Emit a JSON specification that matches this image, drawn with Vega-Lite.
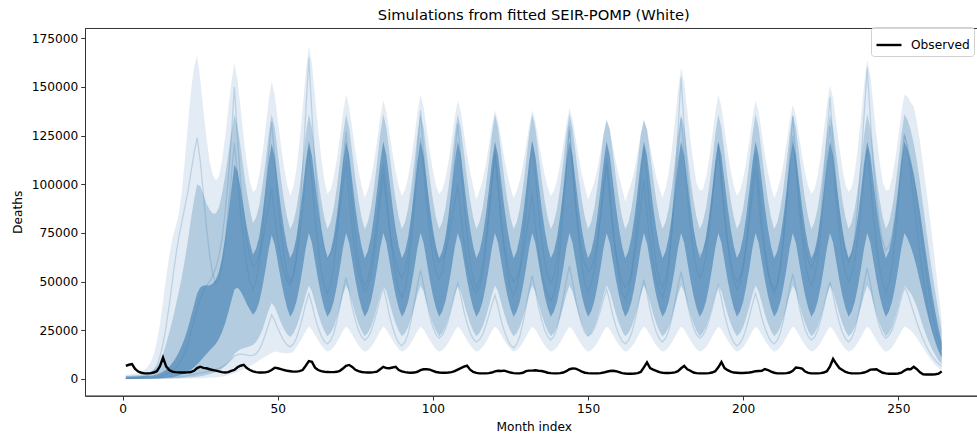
{
  "$schema": "https://vega.github.io/schema/vega-lite/v6.json",
  "width": 897.5,
  "height": 367.7,
  "autosize": {"type": "none"},
  "padding": {"left": 85, "top": 28, "right": 0, "bottom": 40},
  "background": "white",
  "title": {"text": "Simulations from fitted SEIR-POMP (White)", "font": "DejaVu Sans", "fontSize": 14.7, "fontWeight": "normal", "color": "#000000", "anchor": "middle", "offset": 4},
  "config": {
    "view": {"stroke": "#333333", "strokeWidth": 1},
    "axis": {"domainColor": "#333333", "tickColor": "#333333", "labelColor": "#000000", "titleColor": "#000000", "labelFont": "DejaVu Sans", "titleFont": "DejaVu Sans", "labelFontSize": 12.2, "titleFontSize": 12.2, "titleFontWeight": "normal", "grid": false, "tickSize": 4.3, "labelPadding": 3}
  },
  "data": {"values": [
    {"m":1,"lo":0,"a":0,"b":100,"c":1300,"d":1700,"hi":2200,"s1":400,"s2":200,"s3":300,"o":6700},
    {"m":2,"lo":0,"a":0,"b":100,"c":1300,"d":1700,"hi":2300,"s1":450,"s2":200,"s3":300,"o":7300},
    {"m":3,"lo":0,"a":0,"b":100,"c":1300,"d":1800,"hi":2500,"s1":500,"s2":250,"s3":350,"o":7600},
    {"m":4,"lo":0,"a":0,"b":100,"c":1400,"d":1900,"hi":2800,"s1":600,"s2":250,"s3":350,"o":5200},
    {"m":5,"lo":0,"a":0,"b":150,"c":1400,"d":2000,"hi":3200,"s1":700,"s2":300,"s3":400,"o":3800},
    {"m":6,"lo":0,"a":0,"b":150,"c":1500,"d":2200,"hi":3800,"s1":900,"s2":300,"s3":450,"o":3200},
    {"m":7,"lo":0,"a":50,"b":200,"c":1500,"d":2500,"hi":4700,"s1":1200,"s2":350,"s3":500,"o":2900},
    {"m":8,"lo":0,"a":50,"b":200,"c":1600,"d":3000,"hi":6200,"s1":1700,"s2":400,"s3":600,"o":2900},
    {"m":9,"lo":0,"a":100,"b":250,"c":1700,"d":3700,"hi":8500,"s1":2600,"s2":400,"s3":700,"o":3000},
    {"m":10,"lo":0,"a":100,"b":300,"c":1900,"d":4800,"hi":12500,"s1":4200,"s2":450,"s3":850,"o":3300},
    {"m":11,"lo":0,"a":150,"b":350,"c":2300,"d":6500,"hi":19000,"s1":7000,"s2":500,"s3":1000,"o":4000},
    {"m":12,"lo":0,"a":150,"b":400,"c":2900,"d":9500,"hi":28000,"s1":11500,"s2":550,"s3":1300,"o":6500},
    {"m":13,"lo":0,"a":200,"b":500,"c":3700,"d":13000,"hi":40000,"s1":18000,"s2":600,"s3":1700,"o":11000},
    {"m":14,"lo":100,"a":200,"b":600,"c":4800,"d":18000,"hi":52000,"s1":27000,"s2":700,"s3":2200,"o":6500},
    {"m":15,"lo":100,"a":250,"b":800,"c":6300,"d":24000,"hi":63000,"s1":38000,"s2":800,"s3":3000,"o":4600},
    {"m":16,"lo":100,"a":300,"b":1000,"c":8200,"d":30000,"hi":72000,"s1":50000,"s2":900,"s3":4000,"o":3800},
    {"m":17,"lo":100,"a":350,"b":1300,"c":10500,"d":37000,"hi":78000,"s1":62000,"s2":1000,"s3":5500,"o":3500},
    {"m":18,"lo":100,"a":400,"b":1700,"c":13500,"d":44000,"hi":84000,"s1":72000,"s2":1100,"s3":7500,"o":3400},
    {"m":19,"lo":150,"a":500,"b":2200,"c":17000,"d":52000,"hi":95000,"s1":80000,"s2":1300,"s3":10000,"o":3300},
    {"m":20,"lo":150,"a":600,"b":2900,"c":21000,"d":61000,"hi":112000,"s1":88000,"s2":1500,"s3":13500,"o":3300},
    {"m":21,"lo":200,"a":700,"b":3700,"c":26000,"d":71000,"hi":130000,"s1":96000,"s2":1700,"s3":18000,"o":3400},
    {"m":22,"lo":200,"a":800,"b":4700,"c":32000,"d":82000,"hi":148000,"s1":106000,"s2":2000,"s3":24000,"o":3600},
    {"m":23,"lo":250,"a":1000,"b":6000,"c":38000,"d":92000,"hi":160000,"s1":116000,"s2":2300,"s3":30000,"o":4200},
    {"m":24,"lo":300,"a":1200,"b":7500,"c":44000,"d":100000,"hi":166000,"s1":124000,"s2":2700,"s3":36000,"o":5600},
    {"m":25,"lo":350,"a":1400,"b":9200,"c":47000,"d":99000,"hi":154000,"s1":112000,"s2":3000,"s3":41000,"o":6300},
    {"m":26,"lo":400,"a":1700,"b":11000,"c":48000,"d":95000,"hi":138000,"s1":95000,"s2":3300,"s3":45000,"o":5700},
    {"m":27,"lo":500,"a":2000,"b":12800,"c":48000,"d":90000,"hi":124000,"s1":78000,"s2":3600,"s3":48000,"o":5500},
    {"m":28,"lo":600,"a":2400,"b":14600,"c":48000,"d":87000,"hi":112000,"s1":64000,"s2":4000,"s3":50000,"o":5000},
    {"m":29,"lo":700,"a":2900,"b":16300,"c":49000,"d":85000,"hi":105000,"s1":54000,"s2":4400,"s3":53000,"o":4600},
    {"m":30,"lo":800,"a":3500,"b":18000,"c":51000,"d":85000,"hi":102000,"s1":49000,"s2":4800,"s3":57000,"o":4300},
    {"m":31,"lo":1000,"a":4300,"b":20500,"c":55000,"d":88000,"hi":104000,"s1":51000,"s2":5400,"s3":63000,"o":3900},
    {"m":32,"lo":1200,"a":5300,"b":24000,"c":62000,"d":95000,"hi":112000,"s1":58000,"s2":6200,"s3":72000,"o":3500},
    {"m":33,"lo":1500,"a":6600,"b":28500,"c":72000,"d":104000,"hi":124000,"s1":70000,"s2":7200,"s3":85000,"o":3300},
    {"m":34,"lo":1900,"a":8300,"b":34000,"c":84000,"d":115000,"hi":138000,"s1":86000,"s2":8500,"s3":102000,"o":3500},
    {"m":35,"lo":2400,"a":10300,"b":40000,"c":97000,"d":126000,"hi":152000,"s1":104000,"s2":10000,"s3":124000,"o":4200},
    {"m":36,"lo":3000,"a":12800,"b":46000,"c":110000,"d":136000,"hi":162000,"s1":121000,"s2":11800,"s3":150000,"o":4600},
    {"m":37,"lo":3600,"a":14300,"b":47000,"c":107000,"d":130000,"hi":154000,"s1":104500,"s2":12500,"s3":124200,"o":6000},
    {"m":38,"lo":4300,"a":15300,"b":45000,"c":98000,"d":119000,"hi":139000,"s1":85000,"s2":12800,"s3":101200,"o":6800},
    {"m":39,"lo":5000,"a":15800,"b":42000,"c":88000,"d":107000,"hi":124000,"s1":70000,"s2":12600,"s3":83800,"o":7300},
    {"m":40,"lo":5800,"a":16300,"b":38500,"c":78000,"d":96000,"hi":111000,"s1":58000,"s2":12200,"s3":70900,"o":5600},
    {"m":41,"lo":6600,"a":16800,"b":35500,"c":70000,"d":87000,"hi":101000,"s1":49800,"s2":12000,"s3":62600,"o":4600},
    {"m":42,"lo":7500,"a":17500,"b":33000,"c":64000,"d":80000,"hi":96000,"s1":46000,"s2":12100,"s3":58000,"o":3900},
    {"m":43,"lo":8500,"a":19000,"b":35000,"c":67000,"d":83000,"hi":97500,"s1":50300,"s2":13000,"s3":59600,"o":3500},
    {"m":44,"lo":9500,"a":21500,"b":39500,"c":73000,"d":89000,"hi":104600,"s1":59800,"s2":15000,"s3":63200,"o":3300},
    {"m":45,"lo":10500,"a":25000,"b":47000,"c":84000,"d":99000,"hi":115200,"s1":75200,"s2":18500,"s3":70000,"o":3300},
    {"m":46,"lo":11500,"a":30000,"b":56000,"c":97000,"d":111000,"hi":128200,"s1":94200,"s2":23000,"s3":78800,"o":3400},
    {"m":47,"lo":12500,"a":35000,"b":66000,"c":111000,"d":125000,"hi":142400,"s1":114800,"s2":28000,"s3":88400,"o":3800},
    {"m":48,"lo":13500,"a":39000,"b":74000,"c":121000,"d":136000,"hi":153000,"s1":132000,"s2":33000,"s3":98000,"o":4600},
    {"m":49,"lo":14000,"a":37000,"b":69000,"c":114000,"d":129000,"hi":145900,"s1":114000,"s2":30000,"s3":84000,"o":5800},
    {"m":50,"lo":14000,"a":33000,"b":60000,"c":101000,"d":116000,"hi":132900,"s1":92600,"s2":26000,"s3":71500,"o":5500},
    {"m":51,"lo":13500,"a":29000,"b":51000,"c":88000,"d":103000,"hi":120000,"s1":76200,"s2":22500,"s3":62000,"o":5100},
    {"m":52,"lo":13200,"a":25500,"b":43000,"c":77000,"d":92000,"hi":108800,"s1":63100,"s2":19500,"s3":55000,"o":4600},
    {"m":53,"lo":13200,"a":23000,"b":36500,"c":68000,"d":83000,"hi":99900,"s1":54100,"s2":17500,"s3":50500,"o":4200},
    {"m":54,"lo":13200,"a":21500,"b":32000,"c":62000,"d":77000,"hi":94000,"s1":50000,"s2":16500,"s3":48000,"o":4000},
    {"m":55,"lo":14000,"a":23300,"b":34600,"c":65600,"d":80500,"hi":98600,"s1":53400,"s2":17900,"s3":52700,"o":3800},
    {"m":56,"lo":16300,"a":26700,"b":39700,"c":72800,"d":87600,"hi":107900,"s1":60900,"s2":20900,"s3":63200,"o":3800},
    {"m":57,"lo":18700,"a":31400,"b":47500,"c":83600,"d":98200,"hi":121700,"s1":73100,"s2":25900,"s3":83100,"o":4000},
    {"m":58,"lo":21500,"a":37100,"b":56900,"c":96800,"d":111200,"hi":138700,"s1":88100,"s2":31900,"s3":108800,"o":4600},
    {"m":59,"lo":24700,"a":43300,"b":67300,"c":111200,"d":125400,"hi":157100,"s1":104400,"s2":38500,"s3":136900,"o":6800},
    {"m":60,"lo":27000,"a":48000,"b":75000,"c":122000,"d":136000,"hi":171000,"s1":118000,"s2":44000,"s3":165000,"o":9200},
    {"m":61,"lo":25400,"a":44900,"b":69800,"c":114800,"d":128900,"hi":162000,"s1":101700,"s2":38300,"s3":136200,"o":8800},
    {"m":62,"lo":22600,"a":39200,"b":60400,"c":101600,"d":115900,"hi":145000,"s1":82500,"s2":31500,"s3":110400,"o":5800},
    {"m":63,"lo":19700,"a":33400,"b":50900,"c":88400,"d":103000,"hi":128000,"s1":67700,"s2":26300,"s3":90800,"o":4600},
    {"m":64,"lo":17300,"a":28500,"b":42800,"c":77000,"d":91800,"hi":114000,"s1":55800,"s2":22200,"s3":76400,"o":4000},
    {"m":65,"lo":15300,"a":24600,"b":36300,"c":68000,"d":82900,"hi":102000,"s1":47700,"s2":19300,"s3":67200,"o":3700},
    {"m":66,"lo":14000,"a":22000,"b":32000,"c":62000,"d":77000,"hi":95000,"s1":44000,"s2":18000,"s3":62000,"o":3600},
    {"m":67,"lo":14800,"a":23600,"b":34600,"c":65600,"d":80500,"hi":97100,"s1":48200,"s2":19700,"s3":64000,"o":3500},
    {"m":68,"lo":16300,"a":26700,"b":39700,"c":72800,"d":87600,"hi":103400,"s1":57300,"s2":23400,"s3":68500,"o":3500},
    {"m":69,"lo":18700,"a":31400,"b":47500,"c":83600,"d":98200,"hi":112700,"s1":72200,"s2":29600,"s3":77000,"o":3700},
    {"m":70,"lo":21500,"a":37100,"b":56900,"c":96800,"d":111200,"hi":124200,"s1":90500,"s2":37000,"s3":88000,"o":4200},
    {"m":71,"lo":24700,"a":43300,"b":67300,"c":111200,"d":125400,"hi":136600,"s1":110400,"s2":45200,"s3":100000,"o":5400},
    {"m":72,"lo":27000,"a":48000,"b":75000,"c":122000,"d":136000,"hi":146000,"s1":127000,"s2":52000,"s3":112000,"o":6800},
    {"m":73,"lo":25400,"a":44900,"b":69800,"c":114800,"d":128900,"hi":139800,"s1":109600,"s2":45000,"s3":93200,"o":7200},
    {"m":74,"lo":22600,"a":39200,"b":60400,"c":101600,"d":115900,"hi":128300,"s1":89100,"s2":36600,"s3":76500,"o":6200},
    {"m":75,"lo":19700,"a":33400,"b":50900,"c":88400,"d":103000,"hi":116900,"s1":73300,"s2":30200,"s3":63800,"o":4700},
    {"m":76,"lo":17300,"a":28500,"b":42800,"c":77000,"d":91800,"hi":107000,"s1":60600,"s2":25100,"s3":54400,"o":4000},
    {"m":77,"lo":15300,"a":24600,"b":36300,"c":68000,"d":82900,"hi":99200,"s1":52000,"s2":21600,"s3":48400,"o":3600},
    {"m":78,"lo":14000,"a":22000,"b":32000,"c":62000,"d":77000,"hi":93000,"s1":48000,"s2":20000,"s3":45000,"o":3400},
    {"m":79,"lo":14800,"a":23600,"b":34600,"c":65600,"d":80500,"hi":96900,"s1":51100,"s2":21400,"s3":47400,"o":3300},
    {"m":80,"lo":16300,"a":26700,"b":39700,"c":72800,"d":87600,"hi":102800,"s1":57900,"s2":24300,"s3":52800,"o":3300},
    {"m":81,"lo":18700,"a":31400,"b":47500,"c":83600,"d":98200,"hi":111600,"s1":69100,"s2":29200,"s3":63000,"o":3500},
    {"m":82,"lo":21500,"a":37100,"b":56900,"c":96800,"d":111200,"hi":122400,"s1":82700,"s2":35100,"s3":76200,"o":3800},
    {"m":83,"lo":24700,"a":43300,"b":67300,"c":111200,"d":125400,"hi":134200,"s1":97600,"s2":41600,"s3":90600,"o":5000},
    {"m":84,"lo":27000,"a":48000,"b":75000,"c":122000,"d":136000,"hi":143000,"s1":110000,"s2":47000,"s3":105000,"o":6200},
    {"m":85,"lo":25400,"a":44900,"b":69800,"c":114800,"d":128900,"hi":137100,"s1":95000,"s2":40400,"s3":90200,"o":5600},
    {"m":86,"lo":22600,"a":39200,"b":60400,"c":101600,"d":115900,"hi":126300,"s1":77400,"s2":32600,"s3":76900,"o":5500},
    {"m":87,"lo":19700,"a":33400,"b":50900,"c":88400,"d":103000,"hi":115600,"s1":63800,"s2":26600,"s3":66800,"o":5900},
    {"m":88,"lo":17300,"a":28500,"b":42800,"c":77000,"d":91800,"hi":106300,"s1":52900,"s2":21800,"s3":59400,"o":6200},
    {"m":89,"lo":15300,"a":24600,"b":36300,"c":68000,"d":82900,"hi":98900,"s1":45400,"s2":18500,"s3":54700,"o":4600},
    {"m":90,"lo":14000,"a":22000,"b":32000,"c":62000,"d":77000,"hi":94000,"s1":42000,"s2":17000,"s3":52000,"o":3900},
    {"m":91,"lo":14800,"a":23600,"b":34600,"c":65600,"d":80500,"hi":97100,"s1":46100,"s2":19000,"s3":55400,"o":3500},
    {"m":92,"lo":16300,"a":26700,"b":39700,"c":72800,"d":87600,"hi":103400,"s1":55100,"s2":23200,"s3":63200,"o":3300},
    {"m":93,"lo":18700,"a":31400,"b":47500,"c":83600,"d":98200,"hi":112700,"s1":69900,"s2":30300,"s3":77800,"o":3200},
    {"m":94,"lo":21500,"a":37100,"b":56900,"c":96800,"d":111200,"hi":124200,"s1":87900,"s2":38800,"s3":96700,"o":3300},
    {"m":95,"lo":24700,"a":43300,"b":67300,"c":111200,"d":125400,"hi":136600,"s1":107600,"s2":48200,"s3":117400,"o":3700},
    {"m":96,"lo":27000,"a":48000,"b":75000,"c":122000,"d":136000,"hi":146000,"s1":124000,"s2":56000,"s3":138000,"o":4500},
    {"m":97,"lo":25400,"a":44900,"b":69800,"c":114800,"d":128900,"hi":139800,"s1":107900,"s2":48300,"s3":116200,"o":5000},
    {"m":98,"lo":22600,"a":39200,"b":60400,"c":101600,"d":115900,"hi":128300,"s1":89000,"s2":39200,"s3":96700,"o":5000},
    {"m":99,"lo":19700,"a":33400,"b":50900,"c":88400,"d":103000,"hi":116900,"s1":74400,"s2":32200,"s3":81800,"o":4800},
    {"m":100,"lo":17300,"a":28500,"b":42800,"c":77000,"d":91800,"hi":107000,"s1":62700,"s2":26600,"s3":70900,"o":4200},
    {"m":101,"lo":15300,"a":24600,"b":36300,"c":68000,"d":82900,"hi":99200,"s1":54700,"s2":22800,"s3":63900,"o":3600},
    {"m":102,"lo":14000,"a":22000,"b":32000,"c":62000,"d":77000,"hi":95000,"s1":51000,"s2":21000,"s3":60000,"o":3300},
    {"m":103,"lo":14800,"a":23600,"b":34600,"c":65600,"d":80500,"hi":96900,"s1":55000,"s2":22400,"s3":61600,"o":3200},
    {"m":104,"lo":16300,"a":26700,"b":39700,"c":72800,"d":87600,"hi":102800,"s1":63800,"s2":25500,"s3":65200,"o":3200},
    {"m":105,"lo":18700,"a":31400,"b":47500,"c":83600,"d":98200,"hi":111600,"s1":78200,"s2":30500,"s3":72000,"o":3300},
    {"m":106,"lo":21500,"a":37100,"b":56900,"c":96800,"d":111200,"hi":122400,"s1":95800,"s2":36700,"s3":80800,"o":3500},
    {"m":107,"lo":24700,"a":43300,"b":67300,"c":111200,"d":125400,"hi":134200,"s1":115000,"s2":43400,"s3":90400,"o":4000},
    {"m":108,"lo":27000,"a":48000,"b":75000,"c":122000,"d":136000,"hi":143000,"s1":131000,"s2":49000,"s3":100000,"o":4800},
    {"m":109,"lo":25400,"a":44900,"b":69800,"c":114800,"d":128900,"hi":137100,"s1":112500,"s2":42400,"s3":84300,"o":5600},
    {"m":110,"lo":22600,"a":39200,"b":60400,"c":101600,"d":115900,"hi":126300,"s1":90700,"s2":34600,"s3":70300,"o":6300},
    {"m":111,"lo":19700,"a":33400,"b":50900,"c":88400,"d":103000,"hi":115600,"s1":73900,"s2":28600,"s3":59700,"o":6800},
    {"m":112,"lo":17300,"a":28500,"b":42800,"c":77000,"d":91800,"hi":106300,"s1":60400,"s2":23800,"s3":51800,"o":4800},
    {"m":113,"lo":15300,"a":24600,"b":36300,"c":68000,"d":82900,"hi":98900,"s1":51200,"s2":20500,"s3":46800,"o":3600},
    {"m":114,"lo":14000,"a":22000,"b":32000,"c":62000,"d":77000,"hi":92000,"s1":47000,"s2":19000,"s3":44000,"o":3100},
    {"m":115,"lo":14800,"a":23600,"b":34600,"c":65600,"d":80500,"hi":96600,"s1":50400,"s2":20200,"s3":47000,"o":2900},
    {"m":116,"lo":16300,"a":26700,"b":39700,"c":72800,"d":87600,"hi":101900,"s1":57900,"s2":22800,"s3":53600,"o":2900},
    {"m":117,"lo":18700,"a":31400,"b":47500,"c":83600,"d":98200,"hi":109800,"s1":70100,"s2":27200,"s3":66200,"o":2900},
    {"m":118,"lo":21500,"a":37100,"b":56900,"c":96800,"d":111200,"hi":119500,"s1":85100,"s2":32400,"s3":82500,"o":3000},
    {"m":119,"lo":24700,"a":43300,"b":67300,"c":111200,"d":125400,"hi":130100,"s1":101400,"s2":38200,"s3":100200,"o":3300},
    {"m":120,"lo":27000,"a":48000,"b":75000,"c":122000,"d":136000,"hi":138000,"s1":115000,"s2":43000,"s3":118000,"o":3900},
    {"m":121,"lo":25400,"a":44900,"b":69800,"c":114800,"d":128900,"hi":132700,"s1":99200,"s2":37100,"s3":99000,"o":4200},
    {"m":122,"lo":22600,"a":39200,"b":60400,"c":101600,"d":115900,"hi":123000,"s1":80400,"s2":30000,"s3":82000,"o":4100},
    {"m":123,"lo":19700,"a":33400,"b":50900,"c":88400,"d":103000,"hi":113400,"s1":66000,"s2":24600,"s3":69000,"o":4300},
    {"m":124,"lo":17300,"a":28500,"b":42800,"c":77000,"d":91800,"hi":105000,"s1":54500,"s2":20300,"s3":59500,"o":3800},
    {"m":125,"lo":15300,"a":24600,"b":36300,"c":68000,"d":82900,"hi":98400,"s1":46600,"s2":17400,"s3":53400,"o":3300},
    {"m":126,"lo":14000,"a":22000,"b":32000,"c":62000,"d":77000,"hi":93000,"s1":43000,"s2":16000,"s3":50000,"o":3000},
    {"m":127,"lo":14800,"a":23600,"b":34600,"c":65600,"d":80500,"hi":96600,"s1":47000,"s2":17900,"s3":51800,"o":2900},
    {"m":128,"lo":16300,"a":26700,"b":39700,"c":72800,"d":87600,"hi":101900,"s1":55600,"s2":21900,"s3":55900,"o":2900},
    {"m":129,"lo":18700,"a":31400,"b":47500,"c":83600,"d":98200,"hi":109800,"s1":69900,"s2":28600,"s3":63500,"o":3200},
    {"m":130,"lo":21500,"a":37100,"b":56900,"c":96800,"d":111200,"hi":119500,"s1":87200,"s2":36700,"s3":73400,"o":4000},
    {"m":131,"lo":24700,"a":43300,"b":67300,"c":111200,"d":125400,"hi":130100,"s1":106200,"s2":45600,"s3":84200,"o":4300},
    {"m":132,"lo":27000,"a":48000,"b":75000,"c":122000,"d":136000,"hi":138000,"s1":122000,"s2":53000,"s3":95000,"o":4300},
    {"m":133,"lo":25400,"a":44900,"b":69800,"c":114800,"d":128900,"hi":132700,"s1":105900,"s2":45700,"s3":79600,"o":4500},
    {"m":134,"lo":22600,"a":39200,"b":60400,"c":101600,"d":115900,"hi":123000,"s1":87000,"s2":37200,"s3":65900,"o":4200},
    {"m":135,"lo":19700,"a":33400,"b":50900,"c":88400,"d":103000,"hi":113400,"s1":72400,"s2":30600,"s3":55400,"o":4100},
    {"m":136,"lo":17300,"a":28500,"b":42800,"c":77000,"d":91800,"hi":105000,"s1":60700,"s2":25300,"s3":47700,"o":3700},
    {"m":137,"lo":15300,"a":24600,"b":36300,"c":68000,"d":82900,"hi":98400,"s1":52700,"s2":21700,"s3":42800,"o":3200},
    {"m":138,"lo":14000,"a":22000,"b":32000,"c":62000,"d":77000,"hi":94000,"s1":49000,"s2":20000,"s3":40000,"o":3000},
    {"m":139,"lo":14800,"a":23600,"b":34600,"c":65600,"d":80500,"hi":96700,"s1":53000,"s2":21900,"s3":43600,"o":2900},
    {"m":140,"lo":16300,"a":26700,"b":39700,"c":72800,"d":87600,"hi":102100,"s1":61600,"s2":26100,"s3":51700,"o":2900},
    {"m":141,"lo":18700,"a":31400,"b":47500,"c":83600,"d":98200,"hi":110200,"s1":75900,"s2":32900,"s3":67000,"o":3000},
    {"m":142,"lo":21500,"a":37100,"b":56900,"c":96800,"d":111200,"hi":120100,"s1":93200,"s2":41300,"s3":86800,"o":3300},
    {"m":143,"lo":24700,"a":43300,"b":67300,"c":111200,"d":125400,"hi":130900,"s1":112200,"s2":50400,"s3":108400,"o":4000},
    {"m":144,"lo":27000,"a":48000,"b":75000,"c":122000,"d":136000,"hi":139000,"s1":128000,"s2":58000,"s3":130000,"o":5000},
    {"m":145,"lo":25400,"a":44900,"b":69800,"c":114800,"d":128900,"hi":133600,"s1":109700,"s2":50100,"s3":109000,"o":5400},
    {"m":146,"lo":22600,"a":39200,"b":60400,"c":101600,"d":115900,"hi":123700,"s1":88200,"s2":40700,"s3":90300,"o":5300},
    {"m":147,"lo":19700,"a":33400,"b":50900,"c":88400,"d":103000,"hi":113800,"s1":71600,"s2":33500,"s3":76000,"o":4600},
    {"m":148,"lo":17300,"a":28500,"b":42800,"c":77000,"d":91800,"hi":105300,"s1":58300,"s2":27800,"s3":65500,"o":3800},
    {"m":149,"lo":15300,"a":24600,"b":36300,"c":68000,"d":82900,"hi":98500,"s1":49200,"s2":23800,"s3":58800,"o":3200},
    {"m":150,"lo":14000,"a":22000,"b":32000,"c":62000,"d":77000,"hi":92000,"s1":45000,"s2":22000,"s3":55000,"o":3000},
    {"m":151,"lo":14800,"a":23600,"b":34600,"c":65600,"d":80500,"hi":96300,"s1":48400,"s2":23200,"s3":57200,"o":2900},
    {"m":152,"lo":16300,"a":26700,"b":39700,"c":72800,"d":87600,"hi":101000,"s1":55900,"s2":25800,"s3":62200,"o":2900},
    {"m":153,"lo":18700,"a":31400,"b":47500,"c":83600,"d":98200,"hi":108000,"s1":68100,"s2":30200,"s3":71500,"o":2900},
    {"m":154,"lo":21500,"a":37100,"b":56900,"c":96800,"d":111200,"hi":116600,"s1":83100,"s2":35400,"s3":83600,"o":3000},
    {"m":155,"lo":24700,"a":43300,"b":67300,"c":111200,"d":125400,"hi":126000,"s1":99400,"s2":41200,"s3":96800,"o":3300},
    {"m":156,"lo":27000,"a":48000,"b":75000,"c":122000,"d":133000,"hi":133000,"s1":113000,"s2":46000,"s3":110000,"o":3700},
    {"m":157,"lo":25400,"a":44900,"b":69800,"c":114800,"d":128300,"hi":128300,"s1":97200,"s2":39800,"s3":92400,"o":4100},
    {"m":158,"lo":22600,"a":39200,"b":60400,"c":101600,"d":115900,"hi":119700,"s1":78400,"s2":32600,"s3":76600,"o":4200},
    {"m":159,"lo":19700,"a":33400,"b":50900,"c":88400,"d":103000,"hi":111200,"s1":64000,"s2":27000,"s3":64600,"o":4000},
    {"m":160,"lo":17300,"a":28500,"b":42800,"c":77000,"d":91800,"hi":103800,"s1":52500,"s2":22500,"s3":55800,"o":3500},
    {"m":161,"lo":15300,"a":24600,"b":36300,"c":68000,"d":82900,"hi":97900,"s1":44600,"s2":19400,"s3":50200,"o":3000},
    {"m":162,"lo":14000,"a":22000,"b":32000,"c":62000,"d":77000,"hi":91000,"s1":41000,"s2":18000,"s3":47000,"o":2800},
    {"m":163,"lo":14800,"a":23600,"b":34600,"c":65600,"d":80500,"hi":96300,"s1":44900,"s2":19700,"s3":49200,"o":2700},
    {"m":164,"lo":16300,"a":26700,"b":39700,"c":72800,"d":87600,"hi":101000,"s1":53500,"s2":23300,"s3":54200,"o":2700},
    {"m":165,"lo":18700,"a":31400,"b":47500,"c":83600,"d":98200,"hi":108000,"s1":67500,"s2":29200,"s3":63500,"o":2800},
    {"m":166,"lo":21500,"a":37100,"b":56900,"c":96800,"d":111200,"hi":116600,"s1":84700,"s2":36500,"s3":75600,"o":3000},
    {"m":167,"lo":24700,"a":43300,"b":67300,"c":111200,"d":125400,"hi":126000,"s1":103400,"s2":44400,"s3":88800,"o":3600},
    {"m":168,"lo":27000,"a":48000,"b":75000,"c":122000,"d":133000,"hi":133000,"s1":119000,"s2":51000,"s3":102000,"o":6000},
    {"m":169,"lo":25400,"a":44900,"b":69800,"c":114800,"d":128300,"hi":128300,"s1":103200,"s2":44000,"s3":85200,"o":8500},
    {"m":170,"lo":22600,"a":39200,"b":60400,"c":101600,"d":115900,"hi":119700,"s1":84400,"s2":35600,"s3":70200,"o":5600},
    {"m":171,"lo":19700,"a":33400,"b":50900,"c":88400,"d":103000,"hi":111200,"s1":70000,"s2":29200,"s3":58800,"o":4800},
    {"m":172,"lo":17300,"a":28500,"b":42800,"c":77000,"d":91800,"hi":103800,"s1":58500,"s2":24100,"s3":50400,"o":4200},
    {"m":173,"lo":15300,"a":24600,"b":36300,"c":68000,"d":82900,"hi":97900,"s1":50600,"s2":20600,"s3":45000,"o":3500},
    {"m":174,"lo":14000,"a":22000,"b":32000,"c":62000,"d":77000,"hi":93000,"s1":47000,"s2":19000,"s3":42000,"o":3200},
    {"m":175,"lo":14800,"a":23600,"b":34600,"c":65600,"d":80500,"hi":98000,"s1":51400,"s2":20800,"s3":46500,"o":3100},
    {"m":176,"lo":16300,"a":26700,"b":39700,"c":72800,"d":87600,"hi":105900,"s1":60900,"s2":24800,"s3":56700,"o":3100},
    {"m":177,"lo":18700,"a":31400,"b":47500,"c":83600,"d":98200,"hi":117800,"s1":76600,"s2":31200,"s3":75900,"o":3200},
    {"m":178,"lo":21500,"a":37100,"b":56900,"c":96800,"d":111200,"hi":132300,"s1":95700,"s2":39200,"s3":100800,"o":3400},
    {"m":179,"lo":24700,"a":43300,"b":67300,"c":111200,"d":125400,"hi":148100,"s1":116600,"s2":47800,"s3":127900,"o":4000},
    {"m":180,"lo":27000,"a":48000,"b":75000,"c":122000,"d":136000,"hi":160000,"s1":134000,"s2":55000,"s3":155000,"o":5500},
    {"m":181,"lo":25400,"a":44900,"b":69800,"c":114800,"d":128900,"hi":152100,"s1":116000,"s2":47500,"s3":129200,"o":6700},
    {"m":182,"lo":22600,"a":39200,"b":60400,"c":101600,"d":115900,"hi":137600,"s1":94600,"s2":38700,"s3":106200,"o":5000},
    {"m":183,"lo":19700,"a":33400,"b":50900,"c":88400,"d":103000,"hi":123000,"s1":78200,"s2":31900,"s3":88800,"o":4200},
    {"m":184,"lo":17300,"a":28500,"b":42800,"c":77000,"d":91800,"hi":110500,"s1":65100,"s2":26400,"s3":75900,"o":3300},
    {"m":185,"lo":15300,"a":24600,"b":36300,"c":68000,"d":82900,"hi":100600,"s1":56100,"s2":22700,"s3":67600,"o":3000},
    {"m":186,"lo":14000,"a":22000,"b":32000,"c":62000,"d":77000,"hi":97000,"s1":52000,"s2":21000,"s3":63000,"o":2900},
    {"m":187,"lo":14800,"a":23600,"b":34600,"c":65600,"d":80500,"hi":97100,"s1":55500,"s2":22400,"s3":65300,"o":2900},
    {"m":188,"lo":16300,"a":26700,"b":39700,"c":72800,"d":87600,"hi":103400,"s1":63000,"s2":25300,"s3":70400,"o":2900},
    {"m":189,"lo":18700,"a":31400,"b":47500,"c":83600,"d":98200,"hi":112700,"s1":75500,"s2":30200,"s3":80100,"o":3000},
    {"m":190,"lo":21500,"a":37100,"b":56900,"c":96800,"d":111200,"hi":124200,"s1":90600,"s2":36100,"s3":92600,"o":3300},
    {"m":191,"lo":24700,"a":43300,"b":67300,"c":111200,"d":125400,"hi":136600,"s1":107200,"s2":42600,"s3":106300,"o":4000},
    {"m":192,"lo":27000,"a":48000,"b":75000,"c":122000,"d":136000,"hi":146000,"s1":121000,"s2":48000,"s3":120000,"o":6000},
    {"m":193,"lo":25400,"a":44900,"b":69800,"c":114800,"d":128900,"hi":139800,"s1":104500,"s2":41200,"s3":100400,"o":8700},
    {"m":194,"lo":22600,"a":39200,"b":60400,"c":101600,"d":115900,"hi":128300,"s1":85000,"s2":33100,"s3":82900,"o":5600},
    {"m":195,"lo":19700,"a":33400,"b":50900,"c":88400,"d":103000,"hi":116900,"s1":70000,"s2":26900,"s3":69600,"o":4500},
    {"m":196,"lo":17300,"a":28500,"b":42800,"c":77000,"d":91800,"hi":107000,"s1":58000,"s2":22000,"s3":59800,"o":3800},
    {"m":197,"lo":15300,"a":24600,"b":36300,"c":68000,"d":82900,"hi":99200,"s1":49800,"s2":18600,"s3":53500,"o":3300},
    {"m":198,"lo":14000,"a":22000,"b":32000,"c":62000,"d":77000,"hi":94000,"s1":46000,"s2":17000,"s3":50000,"o":3200},
    {"m":199,"lo":14800,"a":23600,"b":34600,"c":65600,"d":80500,"hi":96900,"s1":49500,"s2":18400,"s3":52300,"o":3100},
    {"m":200,"lo":16300,"a":26700,"b":39700,"c":72800,"d":87600,"hi":102800,"s1":57200,"s2":21300,"s3":57500,"o":3100},
    {"m":201,"lo":18700,"a":31400,"b":47500,"c":83600,"d":98200,"hi":111600,"s1":69800,"s2":26200,"s3":67400,"o":3200},
    {"m":202,"lo":21500,"a":37100,"b":56900,"c":96800,"d":111200,"hi":122400,"s1":85200,"s2":32100,"s3":80200,"o":3300},
    {"m":203,"lo":24700,"a":43300,"b":67300,"c":111200,"d":125400,"hi":134200,"s1":102000,"s2":38600,"s3":94100,"o":3600},
    {"m":204,"lo":27000,"a":48000,"b":75000,"c":122000,"d":136000,"hi":143000,"s1":116000,"s2":44000,"s3":108000,"o":4000},
    {"m":205,"lo":25400,"a":44900,"b":69800,"c":114800,"d":128900,"hi":137100,"s1":100200,"s2":38300,"s3":90600,"o":4100},
    {"m":206,"lo":22600,"a":39200,"b":60400,"c":101600,"d":115900,"hi":126300,"s1":81400,"s2":31500,"s3":75100,"o":4200},
    {"m":207,"lo":19700,"a":33400,"b":50900,"c":88400,"d":103000,"hi":115600,"s1":67000,"s2":26300,"s3":63400,"o":5100},
    {"m":208,"lo":17300,"a":28500,"b":42800,"c":77000,"d":91800,"hi":106300,"s1":55500,"s2":22200,"s3":54700,"o":4600},
    {"m":209,"lo":15300,"a":24600,"b":36300,"c":68000,"d":82900,"hi":98900,"s1":47600,"s2":19300,"s3":49100,"o":3800},
    {"m":210,"lo":14000,"a":22000,"b":32000,"c":62000,"d":77000,"hi":93000,"s1":44000,"s2":18000,"s3":46000,"o":3200},
    {"m":211,"lo":14800,"a":23600,"b":34600,"c":65600,"d":80500,"hi":96800,"s1":48100,"s2":19800,"s3":49600,"o":2900},
    {"m":212,"lo":16300,"a":26700,"b":39700,"c":72800,"d":87600,"hi":102500,"s1":57000,"s2":23800,"s3":57600,"o":2900},
    {"m":213,"lo":18700,"a":31400,"b":47500,"c":83600,"d":98200,"hi":110900,"s1":71500,"s2":30200,"s3":72700,"o":2900},
    {"m":214,"lo":21500,"a":37100,"b":56900,"c":96800,"d":111200,"hi":121300,"s1":89400,"s2":38200,"s3":92300,"o":3000},
    {"m":215,"lo":24700,"a":43300,"b":67300,"c":111200,"d":125400,"hi":132500,"s1":108800,"s2":46800,"s3":113600,"o":3300},
    {"m":216,"lo":27000,"a":48000,"b":75000,"c":122000,"d":136000,"hi":141000,"s1":125000,"s2":54000,"s3":135000,"o":4200},
    {"m":217,"lo":25400,"a":44900,"b":69800,"c":114800,"d":128900,"hi":135400,"s1":108100,"s2":46500,"s3":113200,"o":5900},
    {"m":218,"lo":22600,"a":39200,"b":60400,"c":101600,"d":115900,"hi":125000,"s1":88000,"s2":37700,"s3":93700,"o":5700},
    {"m":219,"lo":19700,"a":33400,"b":50900,"c":88400,"d":103000,"hi":114700,"s1":72600,"s2":30900,"s3":78800,"o":5300},
    {"m":220,"lo":17300,"a":28500,"b":42800,"c":77000,"d":91800,"hi":105800,"s1":60300,"s2":25400,"s3":67900,"o":3800},
    {"m":221,"lo":15300,"a":24600,"b":36300,"c":68000,"d":82900,"hi":98700,"s1":51900,"s2":21700,"s3":60900,"o":3100},
    {"m":222,"lo":14000,"a":22000,"b":32000,"c":62000,"d":77000,"hi":95000,"s1":48000,"s2":20000,"s3":57000,"o":2900},
    {"m":223,"lo":14800,"a":23600,"b":34600,"c":65600,"d":80500,"hi":97400,"s1":52100,"s2":21500,"s3":60500,"o":2900},
    {"m":224,"lo":16300,"a":26700,"b":39700,"c":72800,"d":87600,"hi":104300,"s1":61100,"s2":24800,"s3":68400,"o":2900},
    {"m":225,"lo":18700,"a":31400,"b":47500,"c":83600,"d":98200,"hi":114500,"s1":75900,"s2":30200,"s3":83400,"o":3000},
    {"m":226,"lo":21500,"a":37100,"b":56900,"c":96800,"d":111200,"hi":127100,"s1":93900,"s2":36800,"s3":102800,"o":3300},
    {"m":227,"lo":24700,"a":43300,"b":67300,"c":111200,"d":125400,"hi":140700,"s1":113600,"s2":44000,"s3":123900,"o":4000},
    {"m":228,"lo":27000,"a":48000,"b":75000,"c":122000,"d":136000,"hi":151000,"s1":130000,"s2":50000,"s3":145000,"o":6500},
    {"m":229,"lo":25400,"a":44900,"b":69800,"c":114800,"d":128900,"hi":144200,"s1":112400,"s2":43200,"s3":121200,"o":10300},
    {"m":230,"lo":22600,"a":39200,"b":60400,"c":101600,"d":115900,"hi":131600,"s1":91600,"s2":35100,"s3":100000,"o":7800},
    {"m":231,"lo":19700,"a":33400,"b":50900,"c":88400,"d":103000,"hi":119100,"s1":75600,"s2":28900,"s3":83800,"o":5600},
    {"m":232,"lo":17300,"a":28500,"b":42800,"c":77000,"d":91800,"hi":108300,"s1":62800,"s2":24000,"s3":71900,"o":4600},
    {"m":233,"lo":15300,"a":24600,"b":36300,"c":68000,"d":82900,"hi":99700,"s1":54000,"s2":20600,"s3":64300,"o":3600},
    {"m":234,"lo":14000,"a":22000,"b":32000,"c":62000,"d":77000,"hi":96000,"s1":50000,"s2":19000,"s3":60000,"o":3100},
    {"m":235,"lo":14800,"a":23600,"b":34600,"c":65600,"d":80500,"hi":98200,"s1":53400,"s2":20900,"s3":64000,"o":2900},
    {"m":236,"lo":16300,"a":26700,"b":39700,"c":72800,"d":87600,"hi":106600,"s1":60900,"s2":25100,"s3":73000,"o":2900},
    {"m":237,"lo":18700,"a":31400,"b":47500,"c":83600,"d":98200,"hi":119200,"s1":73100,"s2":31900,"s3":90000,"o":2900},
    {"m":238,"lo":21500,"a":37100,"b":56900,"c":96800,"d":111200,"hi":134600,"s1":88100,"s2":40300,"s3":112000,"o":3000},
    {"m":239,"lo":24700,"a":43300,"b":67300,"c":111200,"d":125400,"hi":151400,"s1":104400,"s2":49400,"s3":136000,"o":3300},
    {"m":240,"lo":27000,"a":48000,"b":75000,"c":122000,"d":136000,"hi":164000,"s1":118000,"s2":57000,"s3":160000,"o":3900},
    {"m":241,"lo":25400,"a":44900,"b":69800,"c":114800,"d":128900,"hi":155600,"s1":102000,"s2":49100,"s3":133700,"o":4800},
    {"m":242,"lo":22600,"a":39200,"b":60400,"c":101600,"d":115900,"hi":140200,"s1":83000,"s2":39700,"s3":110200,"o":4900},
    {"m":243,"lo":19700,"a":33400,"b":50900,"c":88400,"d":103000,"hi":124800,"s1":68400,"s2":32500,"s3":92300,"o":5000},
    {"m":244,"lo":17300,"a":28500,"b":42800,"c":77000,"d":91800,"hi":111500,"s1":56700,"s2":26800,"s3":79200,"o":4000},
    {"m":245,"lo":15300,"a":24600,"b":36300,"c":68000,"d":82900,"hi":101000,"s1":48700,"s2":22800,"s3":70700,"o":3200},
    {"m":246,"lo":14000,"a":22000,"b":32000,"c":62000,"d":77000,"hi":97000,"s1":45000,"s2":21000,"s3":66000,"o":2900},
    {"m":247,"lo":14800,"a":23600,"b":34600,"c":65600,"d":80500,"hi":97100,"s1":49000,"s2":22300,"s3":68400,"o":2700},
    {"m":248,"lo":16300,"a":26700,"b":39700,"c":72800,"d":87600,"hi":103400,"s1":58000,"s2":25200,"s3":73700,"o":2700},
    {"m":249,"lo":18700,"a":31400,"b":47500,"c":83600,"d":98200,"hi":112700,"s1":72500,"s2":29800,"s3":83700,"o":2700},
    {"m":250,"lo":21500,"a":37100,"b":56900,"c":96800,"d":111200,"hi":124200,"s1":90400,"s2":35600,"s3":96700,"o":2800},
    {"m":251,"lo":24700,"a":43300,"b":67300,"c":111200,"d":125400,"hi":136600,"s1":109800,"s2":41800,"s3":110800,"o":3200},
    {"m":252,"lo":27000,"a":48000,"b":75000,"c":122000,"d":136000,"hi":146000,"s1":126000,"s2":47000,"s3":125000,"o":4300},
    {"m":253,"lo":26000,"a":46000,"b":72000,"c":118000,"d":133000,"hi":145000,"s1":118000,"s2":44000,"s3":120000,"o":5100},
    {"m":254,"lo":25000,"a":44000,"b":68000,"c":112000,"d":128000,"hi":142000,"s1":106000,"s2":39000,"s3":112000,"o":5000},
    {"m":255,"lo":23000,"a":41000,"b":63000,"c":105000,"d":121000,"hi":140000,"s1":92000,"s2":34000,"s3":103000,"o":6300},
    {"m":256,"lo":21000,"a":37000,"b":57000,"c":96000,"d":112000,"hi":132000,"s1":78000,"s2":29000,"s3":92000,"o":5000},
    {"m":257,"lo":18500,"a":32000,"b":50000,"c":86000,"d":101000,"hi":122000,"s1":64000,"s2":24500,"s3":80000,"o":3400},
    {"m":258,"lo":16000,"a":27000,"b":43000,"c":75000,"d":89000,"hi":110000,"s1":52000,"s2":20500,"s3":67000,"o":2400},
    {"m":259,"lo":13500,"a":22500,"b":36000,"c":64000,"d":77000,"hi":98000,"s1":41000,"s2":17000,"s3":55000,"o":2300},
    {"m":260,"lo":11000,"a":18500,"b":29500,"c":53000,"d":65000,"hi":85000,"s1":32000,"s2":14000,"s3":44000,"o":2300},
    {"m":261,"lo":9000,"a":15000,"b":24000,"c":43000,"d":54000,"hi":72000,"s1":25000,"s2":11500,"s3":34000,"o":2300},
    {"m":262,"lo":7000,"a":12000,"b":19000,"c":34000,"d":44000,"hi":58000,"s1":19500,"s2":9500,"s3":26000,"o":2400},
    {"m":263,"lo":5500,"a":9500,"b":14500,"c":26000,"d":34000,"hi":44000,"s1":15000,"s2":7800,"s3":20000,"o":2700},
    {"m":264,"lo":4200,"a":7500,"b":11000,"c":19000,"d":25000,"hi":30000,"s1":12000,"s2":6500,"s3":15000,"o":3900}
  ]},
  "encoding": {
    "x": {
      "field": "m", "type": "quantitative", "title": "Month index",
      "scale": {"domain": [-12.15, 277.15], "nice": false, "zero": false},
      "axis": {"values": [0, 50, 100, 150, 200, 250], "format": "d", "titlePadding": 5}
    }
  },
  "layer": [
    {
      "mark": {"type": "area", "color": "#4682b4", "opacity": 0.15},
      "encoding": {
        "y": {"field": "lo", "type": "quantitative", "title": "Deaths",
              "scale": {"domain": [-8585, 180285], "nice": false, "zero": false},
              "axis": {"values": [0, 25000, 50000, 75000, 100000, 125000, 150000, 175000], "format": "d", "titlePadding": 7}},
        "y2": {"field": "hi"}
      }
    },
    {
      "mark": {"type": "area", "color": "#4682b4", "opacity": 0.3},
      "encoding": {
        "y": {"field": "a", "type": "quantitative", "title": "Deaths"},
        "y2": {"field": "d"}
      }
    },
    {
      "mark": {"type": "area", "color": "#4682b4", "opacity": 0.65},
      "encoding": {
        "y": {"field": "b", "type": "quantitative", "title": "Deaths"},
        "y2": {"field": "c"}
      }
    },
    {
      "transform": [{"fold": ["s1", "s2", "s3"], "as": ["sim", "deaths"]}],
      "mark": {"type": "line", "color": "#4682b4", "opacity": 0.25, "strokeWidth": 1.3},
      "encoding": {
        "y": {"field": "deaths", "type": "quantitative", "title": "Deaths"},
        "detail": {"field": "sim", "type": "nominal"}
      }
    },
    {
      "mark": {"type": "line", "strokeWidth": 2.4},
      "encoding": {
        "y": {"field": "o", "type": "quantitative", "title": "Deaths"},
        "color": {
          "datum": "Observed", "type": "nominal",
          "scale": {"range": ["#000000"]},
          "legend": {"orient": "none", "legendX": 786, "legendY": -1, "title": null, "symbolType": "stroke", "symbolStrokeWidth": 2.4, "symbolSize": 625, "labelFont": "DejaVu Sans", "labelFontSize": 12.2, "labelColor": "#000000", "labelOffset": 8, "padding": 4, "strokeColor": "#d0d0d0", "fillColor": "rgba(255,255,255,0.8)", "cornerRadius": 3}
        }
      }
    }
  ]
}
